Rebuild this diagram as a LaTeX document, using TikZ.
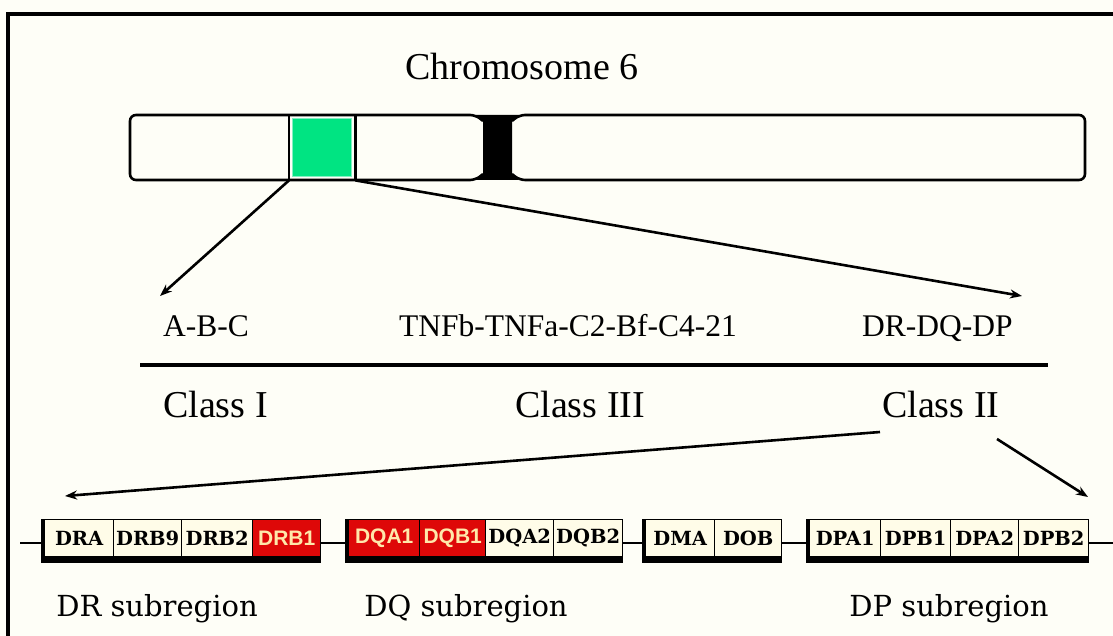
\documentclass[tikz,border=0pt]{standalone}
\usepackage{fontspec}
\setmainfont{Liberation Serif}
\newfontfamily\slabfont{DejaVu Serif}
\newfontfamily\labsans{Liberation Sans}
\usetikzlibrary{arrows.meta}
\definecolor{bg}{RGB}{254,254,247}
\definecolor{cream}{RGB}{255,252,232}
\definecolor{genered}{RGB}{222,8,8}
\definecolor{redtext}{RGB}{255,232,170}
\definecolor{mint}{RGB}{0,228,130}
\definecolor{mintedge}{RGB}{130,240,195}
\begin{document}
\begin{tikzpicture}[x=1pt,y=-1pt,
  ttl/.style={font=\fontsize{38}{40}\selectfont, anchor=base, inner sep=0},
  loc/.style={font=\fontsize{31.5}{33}\selectfont, anchor=base, inner sep=0},
  sub/.style={font=\slabfont\fontsize{29}{31}\selectfont, anchor=base, inner sep=0},
  gene/.style={draw=black, line width=1.4, fill=cream, minimum height=37, inner sep=0, anchor=north west, font=\slabfont\bfseries\fontsize{19.5}{21}\selectfont},
  hot/.style={gene, fill=genered, text=redtext, font=\labsans\bfseries\fontsize{21}{23}\selectfont},
  arr/.style={line width=2.6, -{Stealth[length=12,width=9]}},
  wire/.style={line width=2.6},
  bar/.style={line width=2.6, rounded corners=6},
  shadow/.style={fill=black}
]
\useasboundingbox (0,0) rectangle (1113,636);
\fill[bg] (0,0) rectangle (1113,636);
% frame
\draw[line width=3.2] (8,636) -- (8,14) -- (1113,14);

% title
\node[ttl] (title) at (522,80) {Chromosome 6};

% chromosome bar
\draw[bar] (483,121) -- (476,115) -- (130,115) -- (130,180) -- (476,180) -- (483,174);
\draw[bar] (512,121) -- (519,115) -- (1085,115) -- (1085,180) -- (519,180) -- (512,174);
\fill[black] (476,115) -- (519,115) -- (512,121) -- (512,174) -- (519,180) -- (476,180) -- (483,174) -- (483,121) -- cycle;
\node[minimum width=66, minimum height=65, inner sep=0, anchor=north west] (mhc) at (289,115) {};
\fill[mint, draw=mintedge, line width=1.5] (292.5,118.5) rectangle (351.5,176.5);
\draw[line width=2.6] (mhc.north west) -- (mhc.south west);
\draw[line width=2.6] (mhc.north east) -- (mhc.south east);

% loci
\node[loc, anchor=base west] (abc) at (163,336) {A-B-C};
\node[loc] (tnf) at (568,336) {TNFb-TNFa-C2-Bf-C4-21};
\node[loc, anchor=base west] (drdqdp) at (862,336) {DR-DQ-DP};
\coordinate (t1) at (160,296);
\coordinate (t2) at (1022,296);
\draw[arr] (mhc.south west) -- (t1);
\draw[arr] (mhc.south east) -- (t2);

% divider
\coordinate (l1) at (140,365);
\coordinate (l2) at (1048,365);
\draw[line width=3.6] (l1) -- (l2);

% classes
\node[ttl, anchor=base west] (c1) at (163,417) {Class I};
\node[ttl, anchor=base west] (c3) at (515,417) {Class III};
\node[ttl, anchor=base west] (c2) at (882,417) {Class II};
\coordinate (s3) at (880,432);
\coordinate (e3) at (65,496);
\coordinate (s4) at (997,439);
\coordinate (e4) at (1088,497);
\draw[arr] (s3) -- (e3);
\draw[arr] (s4) -- (e4);

% gene groups: shadows
\fill[shadow] (41,519) rectangle (321,563);
\fill[shadow] (345,519) rectangle (623,563);
\fill[shadow] (642,519) rectangle (782,563);
\fill[shadow] (806,519) rectangle (1089,563);

% DR
\node[gene, minimum width=69] (dra) at (44,519) {DRA};
\node[gene, minimum width=68] (drb9) at (113,519) {DRB9};
\node[gene, minimum width=71] (drb2) at (181,519) {DRB2};
\node[hot, minimum width=68] (drb1) at (252,519) {DRB1};
% DQ
\node[hot, minimum width=71] (dqa1) at (348,519) {DQA1};
\node[hot, minimum width=66] (dqb1) at (419,519) {DQB1};
\node[gene, minimum width=68] (dqa2) at (485,519) {DQA2};
\node[gene, minimum width=69] (dqb2) at (553,519) {DQB2};
% DM
\node[gene, minimum width=69] (dma) at (645,519) {DMA};
\node[gene, minimum width=67] (dob) at (714,519) {DOB};
% DP
\node[gene, minimum width=71] (dpa1) at (809,519) {DPA1};
\node[gene, minimum width=70] (dpb1) at (880,519) {DPB1};
\node[gene, minimum width=68] (dpa2) at (950,519) {DPA2};
\node[gene, minimum width=70] (dpb2) at (1018,519) {DPB2};

% wires
\coordinate (w0) at (20,543);
\coordinate (w9) at (1113,543);
\draw[wire] (w0) -- (w0 -| dra.west);
\draw[wire] (w0 -| drb1.east) -- (w0 -| dqa1.west);
\draw[wire] (w0 -| dqb2.east) -- (w0 -| dma.west);
\draw[wire] (w0 -| dob.east) -- (w0 -| dpa1.west);
\draw[wire] (w0 -| dpb2.east) -- (w9);

% subregions
\node[sub] (drs) at (157,616) {DR subregion};
\node[sub] (dqs) at (466,616) {DQ subregion};
\node[sub] (dps) at (949,616) {DP subregion};
\end{tikzpicture}
\end{document}
